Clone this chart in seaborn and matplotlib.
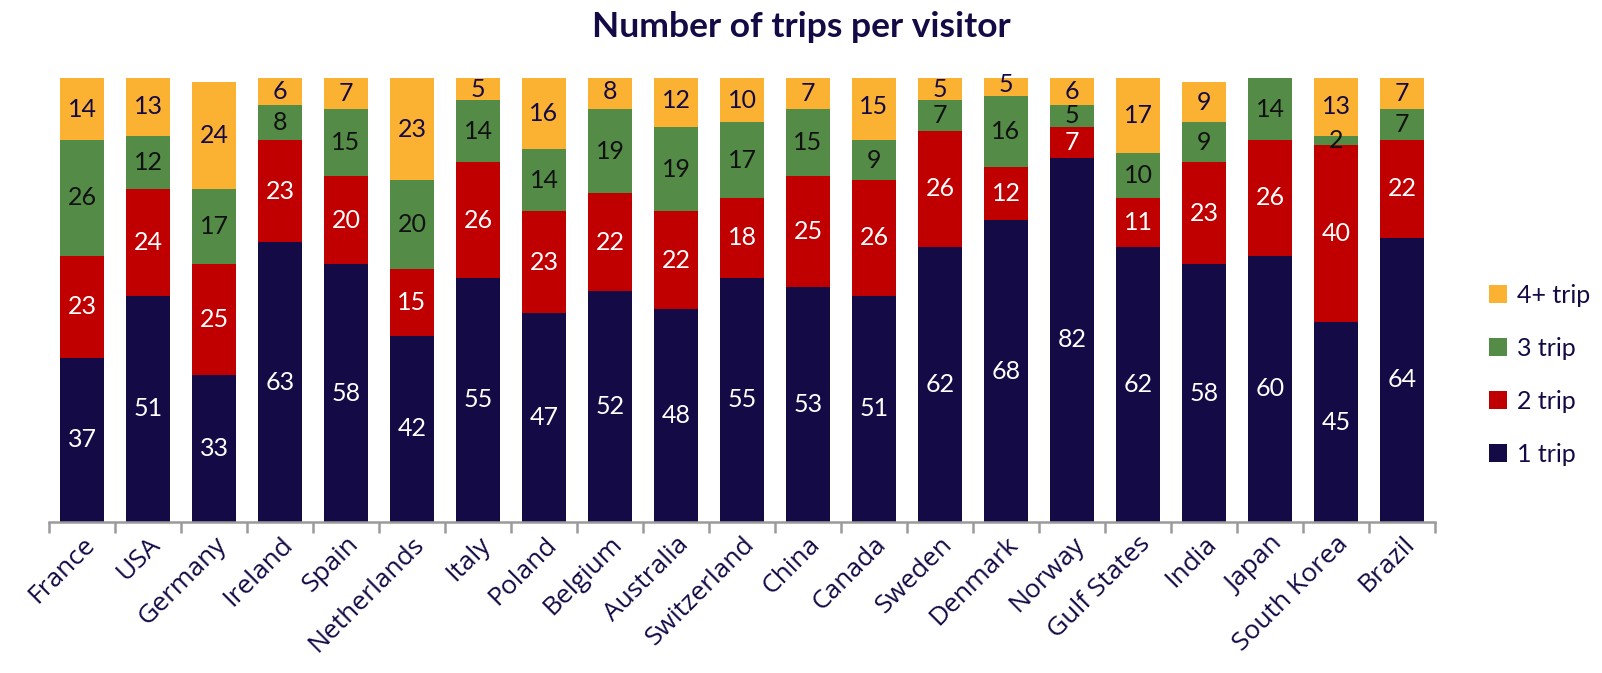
import numpy as np
import pandas as pd
import matplotlib
matplotlib.use("Agg")
import matplotlib.pyplot as plt
import seaborn as sns
from matplotlib.patches import Patch

countries = ["France", "USA", "Germany", "Ireland", "Spain", "Netherlands", "Italy",
             "Poland", "Belgium", "Australia", "Switzerland", "China", "Canada",
             "Sweden", "Denmark", "Norway", "Gulf States", "India", "Japan",
             "South Korea", "Brazil"]
trip1 = [37, 51, 33, 63, 58, 42, 55, 47, 52, 48, 55, 53, 51, 62, 68, 82, 62, 58, 60, 45, 64]
trip2 = [23, 24, 25, 23, 20, 15, 26, 23, 22, 22, 18, 25, 26, 26, 12, 7, 11, 23, 26, 40, 22]
trip3 = [26, 12, 17, 8, 15, 20, 14, 14, 19, 19, 17, 15, 9, 7, 16, 5, 10, 9, 14, 2, 7]
trip4 = [14, 13, 24, 6, 7, 23, 5, 16, 8, 12, 10, 7, 15, 5, 5, 6, 17, 9, 0, 13, 7]

series_names = ["1 trip", "2 trip", "3 trip", "4+ trip"]
series_vals = [trip1, trip2, trip3, trip4]
colors = ["#140A45", "#C00000", "#548B46", "#FBB233"]
label_colors = ["white", "white", "#111111", "#140A45"]
navy = "#140A45"

sns.set_style("white")
plt.rcParams["font.family"] = ["Open Sans", "DejaVu Sans"]

fig = plt.figure(figsize=(16.02, 6.73), dpi=100)
ax = fig.add_axes([49/1602, 1-522/673, (1435-49)/1602, (522-78)/673])

cum = np.zeros(len(countries))
cums = []
for vals in series_vals:
    cum = cum + np.array(vals)
    cums.append(cum.copy())

# draw from top cumulative down so lower segments cover
for i in reversed(range(4)):
    d = pd.DataFrame({"country": countries, "v": cums[i]})
    sns.barplot(data=d, x="country", y="v", color=colors[i], width=0.68,
                saturation=1, ax=ax, edgecolor="none", linewidth=0)

# labels
for i in range(4):
    base = cums[i] - np.array(series_vals[i])
    for j, v in enumerate(series_vals[i]):
        if v == 0:
            continue
        ax.text(j, base[j] + v / 2, str(v), ha="center", va="center",
                fontsize=18, color=label_colors[i], family=["Lato", "DejaVu Sans"])

ax.set_ylim(0, 100)
ax.set_xlim(-0.5, len(countries) - 0.5)
ax.set_xlabel("")
ax.set_ylabel("")
ax.set_yticks([])
for s in ["top", "right", "left"]:
    ax.spines[s].set_visible(False)
ax.spines["bottom"].set_color("#9A9A9A")
ax.spines["bottom"].set_linewidth(1.8)

ax.set_xticks(range(len(countries)))
ax.set_xticklabels(countries, rotation=45, ha="right", rotation_mode="anchor",
                   fontsize=19, color=navy)
ax.tick_params(axis="x", which="major", length=0, pad=7)
ax.set_xticks(np.arange(-0.5, len(countries), 1), minor=True)
ax.tick_params(axis="x", which="minor", length=8, width=1.8, color="#9A9A9A", bottom=True)

fig.text(0.5, 1-27/673, "Number of trips per visitor", ha="center", va="center",
         fontsize=25.5, fontweight="bold", color=navy, family=["Lato", "DejaVu Sans"])

handles = [Patch(facecolor=colors[i], edgecolor="none") for i in reversed(range(4))]
labels = [series_names[i] for i in reversed(range(4))]
fig.legend(handles, labels, loc="center left", bbox_to_anchor=(1466/1602, 1-375/673),
           frameon=False, labelcolor=navy, handlelength=0.75, handleheight=0.75,
           handletextpad=0.4, labelspacing=1.2,
           prop={"family": ["Lato", "DejaVu Sans"], "size": 18})

fig.savefig("out.png", dpi=100)
